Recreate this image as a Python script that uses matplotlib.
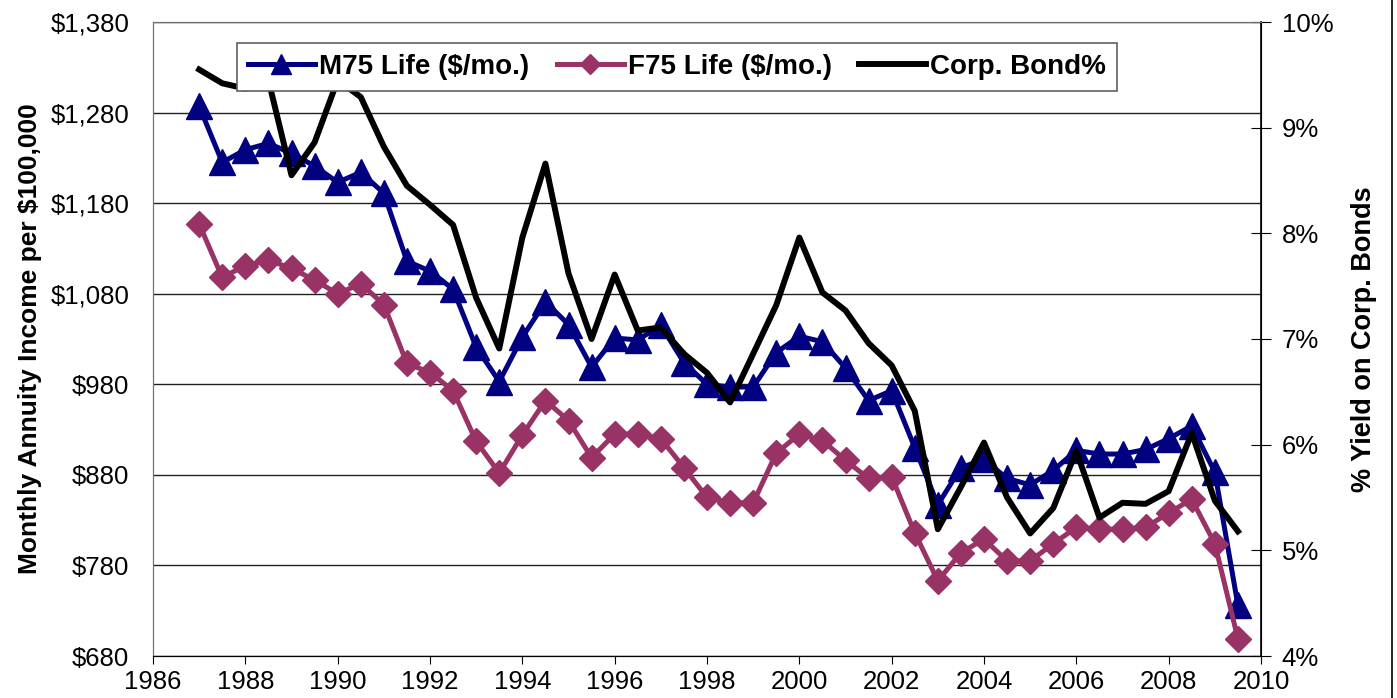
import matplotlib
matplotlib.use("Agg")
import matplotlib.pyplot as plt
from matplotlib.ticker import FuncFormatter
from matplotlib.lines import Line2D

plt.rcParams['font.family'] = ['Liberation Sans', 'DejaVu Sans']

years = [1987 + 0.5 * i for i in range(46)]

m75 = [1287, 1225, 1239, 1246, 1235, 1221, 1203, 1214, 1191, 1116,
       1105, 1085, 1021, 983, 1032, 1071, 1046, 999, 1031, 1029,
       1045, 1004, 980, 977, 977, 1015, 1033, 1027, 998, 962,
       973, 910, 847, 888, 897, 876, 869, 885, 907, 903,
       903, 908, 920, 934, 883, 736]

f75 = [1157, 1098, 1111, 1117, 1108, 1095, 1080, 1091, 1068, 1003,
       993, 973, 917, 882, 924, 962, 940, 899, 925, 925,
       920, 888, 855, 849, 849, 904, 925, 918, 896, 876,
       878, 816, 763, 794, 809, 785, 785, 804, 822, 820,
       820, 822, 838, 853, 804, 699]

bond = [9.55, 9.42, 9.37, 9.45, 8.55, 8.86, 9.45, 9.29, 8.82, 8.45,
        8.27, 8.08, 7.39, 6.91, 7.96, 8.66, 7.62, 7.00, 7.61, 7.08,
        7.11, 6.86, 6.68, 6.40, 6.86, 7.32, 7.96, 7.44, 7.27, 6.96,
        6.75, 6.32, 5.20, 5.60, 6.02, 5.50, 5.16, 5.40, 5.94, 5.31,
        5.45, 5.44, 5.56, 6.11, 5.47, 5.18]

left_ticks = [680, 780, 880, 980, 1080, 1180, 1280, 1380]
right_ticks = [4, 5, 6, 7, 8, 9, 10]
x_ticks = list(range(1986, 2011, 2))

fig = plt.figure(figsize=(13.97, 6.98), dpi=100)
ax = fig.add_axes([153/1397, (698-656)/698, (1261-153)/1397, (656-22)/698])
ax2 = ax.twinx()

navy = '#000080'
plum = '#993366'

ax.plot(years, m75, color=navy, lw=3.6, marker='^', ms=19, mec=navy, mfc=navy, zorder=3)
ax.plot(years, f75, color=plum, lw=3.6, marker='D', ms=13.5, mec=plum, mfc=plum, zorder=3)
ax2.plot(years, bond, color='black', lw=4.3, zorder=3)

ax.set_xlim(1986, 2010)
ax.set_ylim(680, 1380)
ax2.set_ylim(4, 10)
ax.set_xticks(x_ticks)
ax.set_yticks(left_ticks)
ax2.set_yticks(right_ticks)
ax.yaxis.set_major_formatter(FuncFormatter(lambda v, p: '${:,.0f}'.format(v)))
ax2.yaxis.set_major_formatter(FuncFormatter(lambda v, p: '{:.0f}%'.format(v)))

ax.grid(axis='y', color='#202020', lw=1.0)
ax.set_axisbelow(True)
ax.tick_params(axis='y', length=0, labelsize=18.5, pad=17)
ax.tick_params(axis='x', direction='out', length=6, labelsize=18.5, pad=4)
ax2.tick_params(axis='y', direction='inout', length=14, labelsize=18.5, pad=8)

for sp in ['top', 'left']:
    ax.spines[sp].set_color('#707070')
    ax2.spines[sp].set_color('#707070')
ax2.spines['right'].set_color('black')
ax2.spines['right'].set_linewidth(1.2)
ax.spines['bottom'].set_color('black')

ax.set_ylabel('Monthly Annuity Income per $100,000', fontsize=19, fontweight='bold', labelpad=6)
ax2.set_ylabel('% Yield on Corp. Bonds', fontsize=19.5, fontweight='bold', labelpad=12.5)

handles = [
    Line2D([], [], color=navy, lw=3.6, marker='^', ms=15, mfc=navy, mec=navy),
    Line2D([], [], color=plum, lw=3.6, marker='D', ms=10, mfc=plum, mec=plum),
    Line2D([], [], color='black', lw=4.3),
]
labels = ['M75 Life ($/mo.)', 'F75 Life ($/mo.)', 'Corp. Bond%']
leg = ax2.legend(handles, labels, loc='upper left',
                 bbox_to_anchor=((237-153)/(1261-153), 1 - (43-22)/(656-22)),
                 ncol=3, frameon=True, fancybox=False, edgecolor='#606060', framealpha=1,
                 prop={'weight': 'bold', 'size': 20}, handlelength=2.4, handletextpad=0.15,
                 columnspacing=1.0, borderpad=0.4, borderaxespad=0)
leg.get_frame().set_linewidth(1.2)
leg.set_zorder(10)

fig.add_artist(Line2D([1392/1397, 1392/1397], [0, 1], transform=fig.transFigure, color='black', lw=1.2))

fig.savefig('out.png', dpi=100)
